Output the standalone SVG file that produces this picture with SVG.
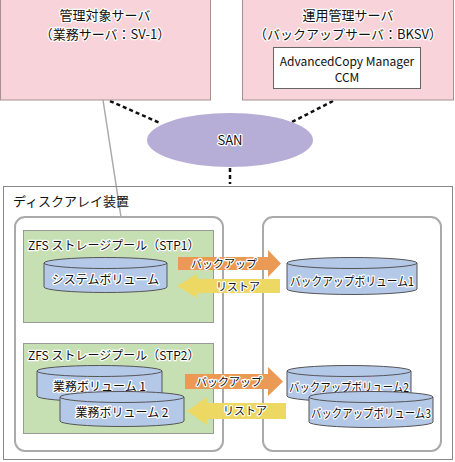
<svg xmlns="http://www.w3.org/2000/svg" width="455" height="462" viewBox="0 0 455 462">
<style>
text{font-family:"Noto Sans CJK JP","Noto Sans",sans-serif;fill:#111;}
.h{stroke:#fff;stroke-width:2.5;stroke-linejoin:round;paint-order:stroke;}
.c{text-anchor:middle;}
.srv{fill:#f8d3da;stroke:#a89090;stroke-width:1;}
.pool{fill:#c6e0b4;stroke:#999;stroke-width:1;}
.rbox{fill:#fff;stroke:#aaa;stroke-width:2;}
.cyl{fill:#b4c8e8;stroke:#555;stroke-width:1;}
.dash{stroke:#111;stroke-width:2.5;stroke-dasharray:4,3;fill:none;}
</style>
<rect width="455" height="462" fill="#fff"/>
<g id="connectors">
<line x1="103" y1="100" x2="121" y2="217" stroke="#aaa" stroke-width="1.5"/>
<line class="dash" x1="110" y1="101" x2="160" y2="123"/>
<line class="dash" x1="333" y1="101" x2="292" y2="122"/>
<line class="dash" x1="230" y1="168" x2="230" y2="184"/>
</g>
<g id="kanri">
<rect class="srv" x="0.5" y="-1" width="210" height="101"/>
<text class="h c" x="105" y="20" font-size="13">管理対象サーバ</text>
<text class="h c" x="105" y="39" font-size="13">（業務サーバ：SV-1）</text>
</g>
<g id="unyo">
<rect class="srv" x="242.5" y="-1" width="211" height="101"/>
<text class="h c" x="348" y="20" font-size="13">運用管理サーバ</text>
<text class="h c" x="348" y="39" font-size="13">（バックアップサーバ：BKSV）</text>
<rect x="273.5" y="47.5" width="147" height="41" fill="#fff" stroke="#666"/>
<text class="c" x="347" y="66" font-size="12">AdvancedCopy Manager</text>
<text class="c" x="347" y="82" font-size="12">CCM</text>
</g>
<g id="san">
<ellipse cx="230" cy="140" rx="83" ry="27" fill="#b6aed6"/>
<text class="h c" x="230" y="145" font-size="13">SAN</text>
</g>
<g id="array">
<rect x="3.5" y="186.5" width="449" height="273" fill="none" stroke="#888" stroke-width="1"/>
<text x="13" y="206" font-size="13">ディスクアレイ装置</text>
</g>
<g id="left-area">
<rect class="rbox" x="15" y="217" width="208" height="234" rx="10"/>
</g>
<g id="right-area">
<rect class="rbox" x="263" y="217" width="178" height="234" rx="10"/>
</g>
<g id="stp1">
<rect class="pool" x="23.5" y="230.5" width="190" height="92"/>
<text class="h" x="28" y="250" font-size="12">ZFS ストレージプール（STP1）</text>
</g>
<g id="sysvol">
<path class="cyl" d="M44,263 L44,287 A61.5,5.5 0 0 0 167,287 L167,263"/>
<ellipse class="cyl" cx="105.5" cy="263" rx="61.5" ry="5.5"/>
<text class="h c" x="105.5" y="284" font-size="12">システムボリューム</text>
</g>
<g id="stp2">
<rect class="pool" x="23.5" y="343.5" width="190" height="90"/>
<text class="h" x="28" y="360" font-size="12">ZFS ストレージプール（STP2）</text>
</g>
<g id="gyomu1">
<path class="cyl" d="M37,371 L37,396 A62.5,5.5 0 0 0 162,396 L162,371"/>
<ellipse class="cyl" cx="99.5" cy="371" rx="62.5" ry="5.5"/>
<text class="h c" x="99.5" y="391" font-size="12">業務ボリューム 1</text>
</g>
<g id="gyomu2">
<path class="cyl" d="M60,397 L60,421 A62,5.5 0 0 0 184,421 L184,397"/>
<ellipse class="cyl" cx="122" cy="397" rx="62" ry="5.5"/>
<text class="h c" x="122" y="417" font-size="12">業務ボリューム 2</text>
</g>
<g id="bkvol1">
<path class="cyl" d="M287,263 L287,289 A65,5.5 0 0 0 417,289 L417,263"/>
<ellipse class="cyl" cx="352" cy="263" rx="65" ry="5.5"/>
<text class="h c" x="352" y="286" font-size="12" textLength="124" lengthAdjust="spacingAndGlyphs">バックアップボリューム1</text>
</g>
<g id="bkvol2">
<path class="cyl" d="M287,371 L287,396 A62,5.5 0 0 0 411,396 L411,371"/>
<ellipse class="cyl" cx="349" cy="371" rx="62" ry="5.5"/>
<text class="h c" x="349" y="392" font-size="12" textLength="120" lengthAdjust="spacingAndGlyphs">バックアップボリューム2</text>
</g>
<g id="bkvol3">
<path class="cyl" d="M309,397 L309,422 A62,5.5 0 0 0 433,422 L433,397"/>
<ellipse class="cyl" cx="371" cy="397" rx="62" ry="5.5"/>
<text class="h c" x="371" y="418" font-size="12" textLength="120" lengthAdjust="spacingAndGlyphs">バックアップボリューム3</text>
</g>
<g id="backup1">
<path d="M178,257 L268,257 L268,250 L281,263.5 L268,277 L268,270 L178,270 Z" fill="#eb9a55"/>
<text class="h c" x="224" y="268" font-size="11">バックアップ</text>
</g>
<g id="restore1">
<path d="M280,279 L197,279 L197,274 L177,286 L197,298 L197,293 L280,293 Z" fill="#ecd862"/>
<text class="h c" x="238" y="291" font-size="11">リストア</text>
</g>
<g id="backup2">
<path d="M185,374 L268,374 L268,367 L283,381.5 L268,396 L268,389 L185,389 Z" fill="#eb9a55"/>
<text class="h c" x="229" y="386" font-size="11">バックアップ</text>
</g>
<g id="restore2">
<path d="M286,403 L207,403 L207,397 L187,411 L207,425 L207,419 L286,419 Z" fill="#ecd862"/>
<text class="h c" x="245" y="415" font-size="11">リストア</text>
</g>
</svg>
